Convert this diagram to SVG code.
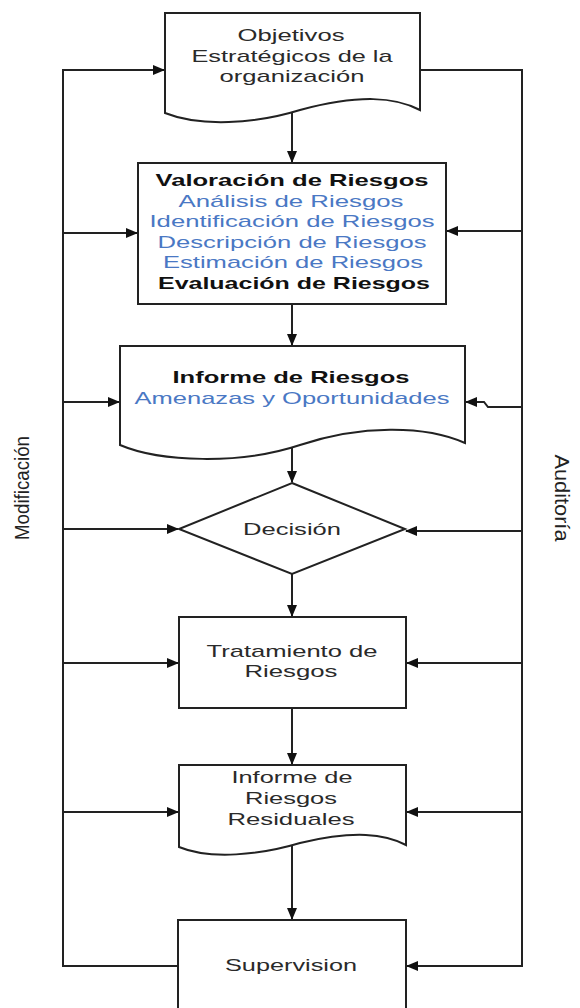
<svg xmlns="http://www.w3.org/2000/svg" width="580" height="1008" viewBox="0 0 580 1008">
  <style>
    .shape { fill: #ffffff; stroke: #222222; stroke-width: 2; }
    .wire { fill: none; stroke: #222222; stroke-width: 2; }
    .t { font-family: "Liberation Sans", Arial, sans-serif; font-size: 17px; fill: #2a2a2a; text-anchor: middle; }
    .b { font-weight: bold; fill: #111111; }
    .blue { fill: #4a78c4; }
    .side { font-family: "Liberation Sans", Arial, sans-serif; font-size: 21px; fill: #222222; text-anchor: middle; }
  </style>
  <defs>
    <marker id="arrow" markerUnits="userSpaceOnUse" markerWidth="12" markerHeight="10" refX="11" refY="5" orient="auto">
      <path d="M0,0 L12,5 L0,10 Z" fill="#111111"/>
    </marker>
  </defs>

  <rect width="580" height="1008" fill="#ffffff"/>

  <!-- connectors -->
  <g id="connectors">
    <!-- main flow -->
    <path class="wire" d="M292,112 V162" marker-end="url(#arrow)"/>
    <path class="wire" d="M292,304 V345" marker-end="url(#arrow)"/>
    <path class="wire" d="M292,448 V482" marker-end="url(#arrow)"/>
    <path class="wire" d="M292,574 V616" marker-end="url(#arrow)"/>
    <path class="wire" d="M292,708 V764" marker-end="url(#arrow)"/>
    <path class="wire" d="M292,846 V919" marker-end="url(#arrow)"/>

    <!-- left loop (Modificación) -->
    <path class="wire" d="M178,966 H63 V70 H164" marker-end="url(#arrow)"/>
    <path class="wire" d="M63,233 H137" marker-end="url(#arrow)"/>
    <path class="wire" d="M63,402 H119" marker-end="url(#arrow)"/>
    <path class="wire" d="M63,529 H178" marker-end="url(#arrow)"/>
    <path class="wire" d="M63,663 H178" marker-end="url(#arrow)"/>
    <path class="wire" d="M63,812 H178" marker-end="url(#arrow)"/>

    <!-- right loop (Auditoría) -->
    <path class="wire" d="M420,70 H522 V966 H407" marker-end="url(#arrow)"/>
    <path class="wire" d="M522,231 H447" marker-end="url(#arrow)"/>
    <path class="wire" d="M522,407 H488 L484,402 H466" marker-end="url(#arrow)"/>
    <path class="wire" d="M522,531 H406" marker-end="url(#arrow)"/>
    <path class="wire" d="M522,663 H407" marker-end="url(#arrow)"/>
    <path class="wire" d="M522,812 H407" marker-end="url(#arrow)"/>
  </g>

  <!-- strategic objectives (document) -->
  <g id="objetivos">
    <path class="shape" d="M165,13 H420 V110 C395,97 360,94 300,110 C255,124 200,127 165,113 Z"/>
    <text class="t" x="291" y="41" textLength="107" lengthAdjust="spacingAndGlyphs">Objetivos</text>
    <text class="t" x="292" y="62" textLength="201" lengthAdjust="spacingAndGlyphs">Estratégicos de la</text>
    <text class="t" x="292" y="82" textLength="145" lengthAdjust="spacingAndGlyphs">organización</text>
  </g>

  <!-- risk assessment -->
  <g id="valoracion">
    <rect class="shape" x="138" y="163" width="308" height="141"/>
    <text class="t b" x="292" y="186" textLength="273" lengthAdjust="spacingAndGlyphs">Valoración de Riesgos</text>
    <text class="t blue" x="291" y="207" textLength="225" lengthAdjust="spacingAndGlyphs">Análisis de Riesgos</text>
    <text class="t blue" x="292" y="227" textLength="285" lengthAdjust="spacingAndGlyphs">Identificación de Riesgos</text>
    <text class="t blue" x="292" y="248" textLength="269" lengthAdjust="spacingAndGlyphs">Descripción de Riesgos</text>
    <text class="t blue" x="293" y="268" textLength="260" lengthAdjust="spacingAndGlyphs">Estimación de Riesgos</text>
    <text class="t b" x="294" y="289" textLength="272" lengthAdjust="spacingAndGlyphs">Evaluación de Riesgos</text>
  </g>

  <!-- risk report (document) -->
  <g id="informe">
    <path class="shape" d="M120,346 H465 V443 C425,425 360,425 300,445 C240,465 160,462 120,445 Z"/>
    <text class="t b" x="291" y="383" textLength="237" lengthAdjust="spacingAndGlyphs">Informe de Riesgos</text>
    <text class="t blue" x="292" y="404" textLength="315" lengthAdjust="spacingAndGlyphs">Amenazas y Oportunidades</text>
  </g>

  <!-- decision -->
  <g id="decision">
    <polygon class="shape" points="292,483 405,529 292,574 179,529"/>
    <text class="t" x="292" y="535" textLength="98" lengthAdjust="spacingAndGlyphs">Decisión</text>
  </g>

  <!-- risk treatment -->
  <g id="tratamiento">
    <rect class="shape" x="179" y="617" width="227" height="91"/>
    <text class="t" x="292" y="657" textLength="171" lengthAdjust="spacingAndGlyphs">Tratamiento de</text>
    <text class="t" x="291" y="677" textLength="93" lengthAdjust="spacingAndGlyphs">Riesgos</text>
  </g>

  <!-- residual risk report (document) -->
  <g id="residuales">
    <path class="shape" d="M179,765 H406 V845 C385,834 355,830 300,843 C260,855 210,860 179,847 Z"/>
    <text class="t" x="292" y="783" textLength="121" lengthAdjust="spacingAndGlyphs">Informe de</text>
    <text class="t" x="291" y="804" textLength="92" lengthAdjust="spacingAndGlyphs">Riesgos</text>
    <text class="t" x="291" y="825" textLength="127" lengthAdjust="spacingAndGlyphs">Residuales</text>
  </g>

  <!-- supervision -->
  <g id="supervision">
    <rect class="shape" x="178" y="920" width="228" height="100"/>
    <text class="t" x="291" y="971" textLength="132" lengthAdjust="spacingAndGlyphs">Supervision</text>
  </g>

  <!-- loop labels -->
  <g id="modificacion">
    <text class="side" transform="translate(29,488) rotate(-90)" textLength="104" lengthAdjust="spacingAndGlyphs">Modificación</text>
  </g>
  <g id="auditoria">
    <text class="side" transform="translate(555,498) rotate(90)" textLength="87" lengthAdjust="spacingAndGlyphs">Auditoría</text>
  </g>
</svg>
